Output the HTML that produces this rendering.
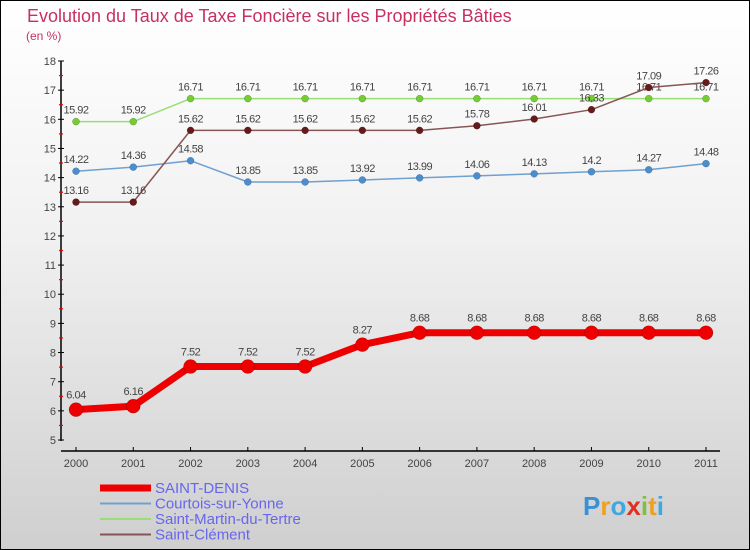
<!DOCTYPE html>
<html><head><meta charset="utf-8"><style>
html,body{margin:0;padding:0}
body{width:750px;height:550px;overflow:hidden;font-family:"Liberation Sans",sans-serif}
#wrap{position:absolute;left:0;top:0;width:748px;height:548px;border:1px solid #000;background:linear-gradient(#ffffff 0%,#f2f2f2 40%,#cfcfcf 100%)}
</style></head><body>
<div id="wrap">
<svg id="chart" width="750" height="550" style="position:absolute;left:-1px;top:-1px"></svg>
</div>
<script>
const years=[2000,2001,2002,2003,2004,2005,2006,2007,2008,2009,2010,2011];
const saintDenis=[6.04,6.16,7.52,7.52,7.52,8.27,8.68,8.68,8.68,8.68,8.68,8.68];
const courtois=[14.22,14.36,14.58,13.85,13.85,13.92,13.99,14.06,14.13,14.2,14.27,14.48];
const saintMartin=[15.92,15.92,16.71,16.71,16.71,16.71,16.71,16.71,16.71,16.71,16.71,16.71];
const saintClement=[13.16,13.16,15.62,15.62,15.62,15.62,15.62,15.78,16.01,16.33,17.09,17.26];
const yTicks=[5,6,7,8,9,10,11,12,13,14,15,16,17,18];
const legendNames=["SAINT-DENIS","Courtois-sur-Yonne","Saint-Martin-du-Tertre","Saint-Clément"];

const NS="http://www.w3.org/2000/svg";
const svg=document.getElementById('chart');
const xS=i=>76+i*(706-76)/11;
const yS=v=>440-(v-5)*(440-61)/13;
function el(t,a,txt){const e=document.createElementNS(NS,t);for(const k in a)e.setAttribute(k,a[k]);if(txt!==undefined)e.textContent=txt;svg.appendChild(e);return e;}

let t=el('text',{x:27,y:22,'font-size':18,fill:'#c8305f'},'Evolution du Taux de Taxe Foncière sur les Propriétés Bâties');

t=el('text',{x:26,y:40,'font-size':12,fill:'#c8305f'},'(en %)');


let a=el('line',{x1:61,y1:61,x2:61,y2:441,stroke:'#000','stroke-width':1.5});

a=el('line',{x1:61,y1:451,x2:720,y2:451,stroke:'#000','stroke-width':1.5});

yTicks.forEach((v,i)=>{
  const y=yS(v);
  let tk=el('line',{x1:58,y1:y,x2:64,y2:y,stroke:'#000'});
  
  let lb=el('text',{x:56,y:y+4,'font-size':11,fill:'#444','text-anchor':'end'},v);
  
  if(i<yTicks.length-1){let m=el('line',{x1:59,y1:yS(v+0.5),x2:63,y2:yS(v+0.5),stroke:'#e00','stroke-width':1.2});
  }
});
years.forEach((yr,i)=>{
  const x=xS(i);
  let tk=el('line',{x1:x,y1:447,x2:x,y2:451,stroke:'#000'});
  
  let lb=el('text',{x:x,y:467,'font-size':11,fill:'#444','text-anchor':'middle'},yr);
  
});

function series(vals,color,dot,w,r,name,labelOff){
  const pts=vals.map((v,i)=>xS(i)+','+yS(v)).join(' ');
  let p=el('polyline',{points:pts,fill:'none',stroke:color,'stroke-width':w,'stroke-linejoin':'round'});
  
  vals.forEach((v,i)=>{
    let c=el('circle',{cx:xS(i),cy:yS(v),r:r,fill:dot,stroke:'rgba(0,0,0,0.3)','stroke-width':0.5});
    
    let l=el('text',{x:xS(i),y:yS(v)-labelOff,'font-size':11,fill:'#444','text-anchor':'middle','letter-spacing':'-0.5'},v);
    
  });
}
series(courtois,'#6fa0d0','#4a8ed0',1.5,3.5,'courtois',8);
series(saintMartin,'#99dd77','#77cc33',1.5,3.5,'saint-martin',8);
series(saintClement,'#885555','#661a1a',1.5,3.5,'saint-clement',8);
series(saintDenis,'#ee0000','#ee0000',7,7,'saint-denis',11);

const lc=['#ee0000','#6fa0d0','#99dd77','#885555'];
const lw=[7,2,2,2];
legendNames.forEach((n,i)=>{
  const y=493+i*15.5;
  let ln=el('line',{x1:100,y1:y-5,x2:151,y2:y-5,stroke:lc[i],'stroke-width':lw[i]});
  
  let tx=el('text',{x:155,y:y,'font-size':15,fill:'#6666ee'},n);
  
});
let lg=el('text',{x:583,y:515,'font-size':26,'font-weight':'bold',fill:'#3aa0d8'},'');

const letters=[['P','#3a90d8'],['r','#f0a020'],['o','#40a8e0'],['x','#e03020'],['i','#80c040'],['t','#f0a020'],['i','#40a8e0']];
letters.forEach(([c,col])=>{const s=document.createElementNS(NS,'tspan');s.setAttribute('fill',col);s.textContent=c;lg.appendChild(s);});
</script>
</body></html>
